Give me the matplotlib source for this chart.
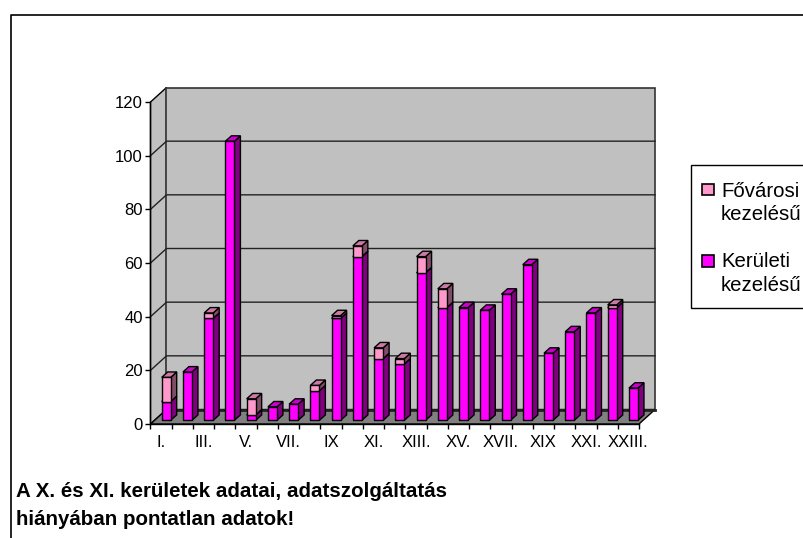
import matplotlib
matplotlib.use("Agg")
import matplotlib.pyplot as plt

plt.rcParams["font.family"] = ["Liberation Sans", "DejaVu Sans"]

W, H = 804, 538

kerulet = ["I.", "II.", "III.", "IV.", "V.", "VI.", "VII.", "VIII.", "IX", "X.", "XI.", "XII.",
           "XIII.", "XIV.", "XV.", "XVI.", "XVII.", "XVIII.", "XIX", "XX.", "XXI.", "XXII.", "XXIII."]
keruleti = [7, 18, 38, 104, 2, 5, 6, 11, 38, 61, 23, 21, 55, 42, 42, 41, 47, 58, 25, 33, 40, 42, 12]
fovarosi = [9, 0, 2, 0, 6, 0, 0, 2, 1, 4, 4, 2, 6, 7, 0, 0, 0, 0, 0, 0, 0, 1, 0]
y_ticks = [0, 20, 40, 60, 80, 100, 120]

left, right, top, bottom = 150.5, 639, 102, 424

fig = plt.figure(figsize=(W / 100, H / 100), dpi=100, facecolor="white")
ax = fig.add_axes([left / W, 1 - bottom / H, (right - left) / W, (bottom - top) / H])
ax.set_xlim(0, len(kerulet))
ax.set_ylim(0, 120)
ax.patch.set_alpha(0)

# px -> data
sx = len(kerulet) / (right - left)
sy = 120 / (bottom - top)

# walls
dx, dy = 16 * sx, 14.5 * sy
n = len(kerulet)
ax.fill([0, dx, dx, 0], [0, dy, 120 + dy, 120], fc="#C0C0C0", ec="black", lw=1, zorder=1, clip_on=False)
ax.fill([dx, n + dx, n + dx, dx], [dy, dy, 120 + dy, 120 + dy], fc="#C0C0C0", ec="#333333", lw=1.2, zorder=1, clip_on=False)
ax.fill([0, n, n + dx, dx], [0, 0, dy, dy], fc="#808080", ec="black", lw=1, zorder=2, clip_on=False)
for t in y_ticks[1:-1]:
    ax.plot([0, dx, n + dx], [t, t + dy, t + dy], color="#222222", lw=1, zorder=2, clip_on=False)
ax.plot([dx, n + dx], [dy, dy], color="#222222", lw=2, zorder=2, clip_on=False)

# bars
bw = 9 * sx
off = 11.2 * sx
base = 3.7 * sy
bx, by = 6 * sx, 5.4 * sy


def box(x, y0, y1, front, side, cap, z):
    ax.bar(x, y1 - y0, bw, bottom=y0, align="edge", color=front, edgecolor="black", lw=1, zorder=z + 0.2, clip_on=False)
    ax.fill([x + bw, x + bw + bx, x + bw + bx, x + bw], [y0, y0 + by, y1 + by, y1],
            fc=side, ec="black", lw=1, zorder=z, clip_on=False)
    ax.fill([x, x + bw, x + bw + bx, x + bx], [y1, y1, y1 + by, y1 + by],
            fc=cap, ec="black", lw=1, zorder=z, clip_on=False)


for i in range(n):
    x = i + off
    y0 = base
    y1 = y0 + keruleti[i]
    box(x, y0, y1, "#FF00FF", "#800080", "#CC00CC", 3 + i)
    if fovarosi[i] > 0:
        box(x, y1, y1 + fovarosi[i], "#FF99CC", "#804D66", "#CC7AA3", 3.5 + i)

# axes
for s in ["top", "right"]:
    ax.spines[s].set_visible(False)
for s in ["left", "bottom"]:
    ax.spines[s].set_linewidth(1)
    ax.spines[s].set_zorder(40)
ax.set_yticks(y_ticks)
ax.tick_params(axis="y", length=3.6, width=1, pad=2, labelsize=12)
ax.set_xticks(range(n + 1))
ax.set_xticklabels([])
ax.tick_params(axis="x", which="major", length=3.6, width=1)
ax.set_xticks([i + 0.5 for i in range(0, n, 2)], minor=True)
ax.set_xticklabels(kerulet[::2], minor=True, fontsize=12)
ax.tick_params(axis="x", which="minor", length=0, pad=8)


def fx(p):
    return p / W


def fy(p):
    return 1 - p / H


# chart frame
fig.add_artist(plt.Line2D([fx(11), fx(11), fx(W)], [0, fy(14.7), fy(14.7)], color="black", lw=1.2))

# legend
fig.add_artist(plt.Rectangle((fx(691), fy(308)), fx(W + 10 - 691), (308 - 165) / H, fc="white", ec="black", lw=1))
for col, y0, y1, l1, l2, b1, b2 in [("#FF99CC", 184, 195, "Fővárosi", "kezelésű", 197, 220),
                                    ("#FF00FF", 255, 267, "Kerületi", "kezelésű", 267, 291)]:
    fig.add_artist(plt.Rectangle((fx(702), fy(y1)), 12 / W, (y1 - y0) / H, fc=col, ec="black", lw=1.2))
    fig.text(fx(721), fy(b1), l1, fontsize=14.7, va="baseline", ha="left")
    fig.text(fx(721), fy(b2), l2, fontsize=14.7, va="baseline", ha="left")

# note
fig.text(fx(16), fy(497), "A X. és XI. kerületek adatai, adatszolgáltatás", fontsize=14.8, fontweight="bold", va="baseline")
fig.text(fx(16), fy(525), "hiányában pontatlan adatok!", fontsize=14.8, fontweight="bold", va="baseline")

fig.savefig("out.png", dpi=100)
